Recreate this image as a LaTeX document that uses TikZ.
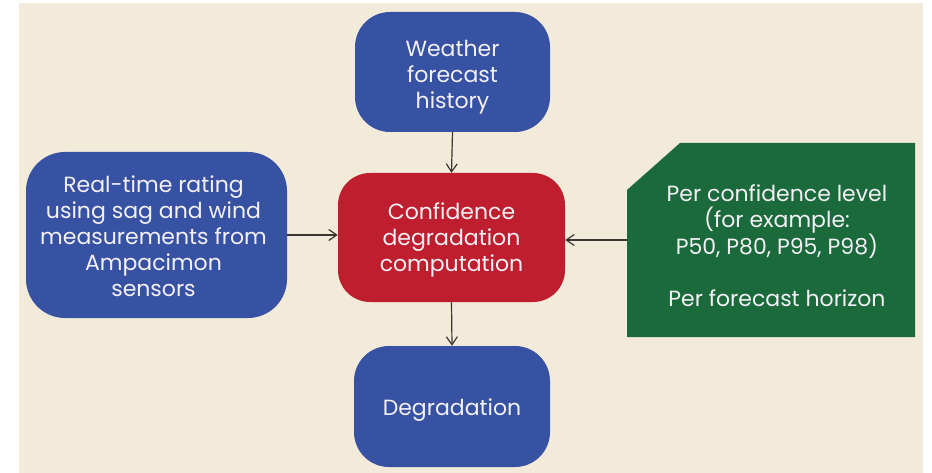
\documentclass[tikz,border=0pt]{standalone}
\usepackage{fontspec}
\setmainfont{Poppins}
\usetikzlibrary{arrows.meta}
\definecolor{paper}{HTML}{F2EBD9}
\definecolor{boxblue}{HTML}{3751A3}
\definecolor{boxred}{HTML}{BF1E2E}
\definecolor{boxgreen}{HTML}{1A6A3B}
\definecolor{inkline}{HTML}{3A3632}
\definecolor{boxtext}{HTML}{F3F1F6}
\tikzset{
  flowbox/.style={rounded corners=35pt, inner sep=0pt},
  bluebox/.style={flowbox, fill=boxblue},
  redbox/.style={flowbox, fill=boxred},
  boxlabel/.style={align=center, text=boxtext, inner sep=0pt,
    font=\fontsize{22}{26}\selectfont},
  flowarrow/.style={draw=inkline, line width=1.2pt,
    -{Straight Barb[length=8pt,width=11pt,line width=1.2pt]}}
}
\begin{document}
\begin{tikzpicture}[x=1pt,y=-1pt]
  \useasboundingbox (0,0) rectangle (932,473);
  \fill[white] (0,0) rectangle (932,473);
  \fill[paper] (19,3) rectangle (923,473);

  % process boxes
  \node[bluebox, minimum width=195pt, minimum height=120pt] (weather) at (452.5,72) {};
  \node[redbox, rounded corners=32pt, minimum width=227pt, minimum height=129pt] (conf) at (451.5,237.5) {};
  \node[bluebox, rounded corners=39pt, minimum width=261pt, minimum height=166pt] (rt) at (156.5,235) {};
  \node[bluebox, minimum width=196pt, minimum height=121pt] (deg) at (452,406.5) {};

  % chamfered parameter panel
  \fill[boxgreen] (627,190) -- (680,143) -- (915,143) -- (915,337) -- (627,337) -- cycle;
  \node[minimum width=288pt, minimum height=194pt, inner sep=0pt] (levels) at (771,240) {};

  % box texts
  \node[boxlabel] (weathertext) at ([yshift=-5pt]weather.center) {Weather\\forecast\\history};
  \node[boxlabel] (conftext) at ([yshift=-2pt]conf.center) {Confidence\\degradation\\computation};
  \node[boxlabel] (rttext) at ([xshift=-3pt,yshift=-1pt]rt.center)
    {Real-time rating\\using sag and wind\\measurements from\\Ampacimon\\sensors};
  \node[boxlabel] (degtext) at ([yshift=-4pt]deg.center) {Degradation};
  \node[boxlabel] (levelstext) at ([xshift=6pt,yshift=-6pt]levels.center)
    {Per confidence level\\(for example:\\P50, P80, P95, P98)\\[26pt]Per forecast horizon};

  % connectors
  \draw[flowarrow] (weather.south) -- (conf.north);
  \draw[flowarrow] (conf.south) -- (deg.north);
  \draw[flowarrow] (rt.east) -- (rt.east -| conf.west);
  \draw[flowarrow] (levels.west) -- (levels.west -| conf.east);
\end{tikzpicture}
\end{document}
